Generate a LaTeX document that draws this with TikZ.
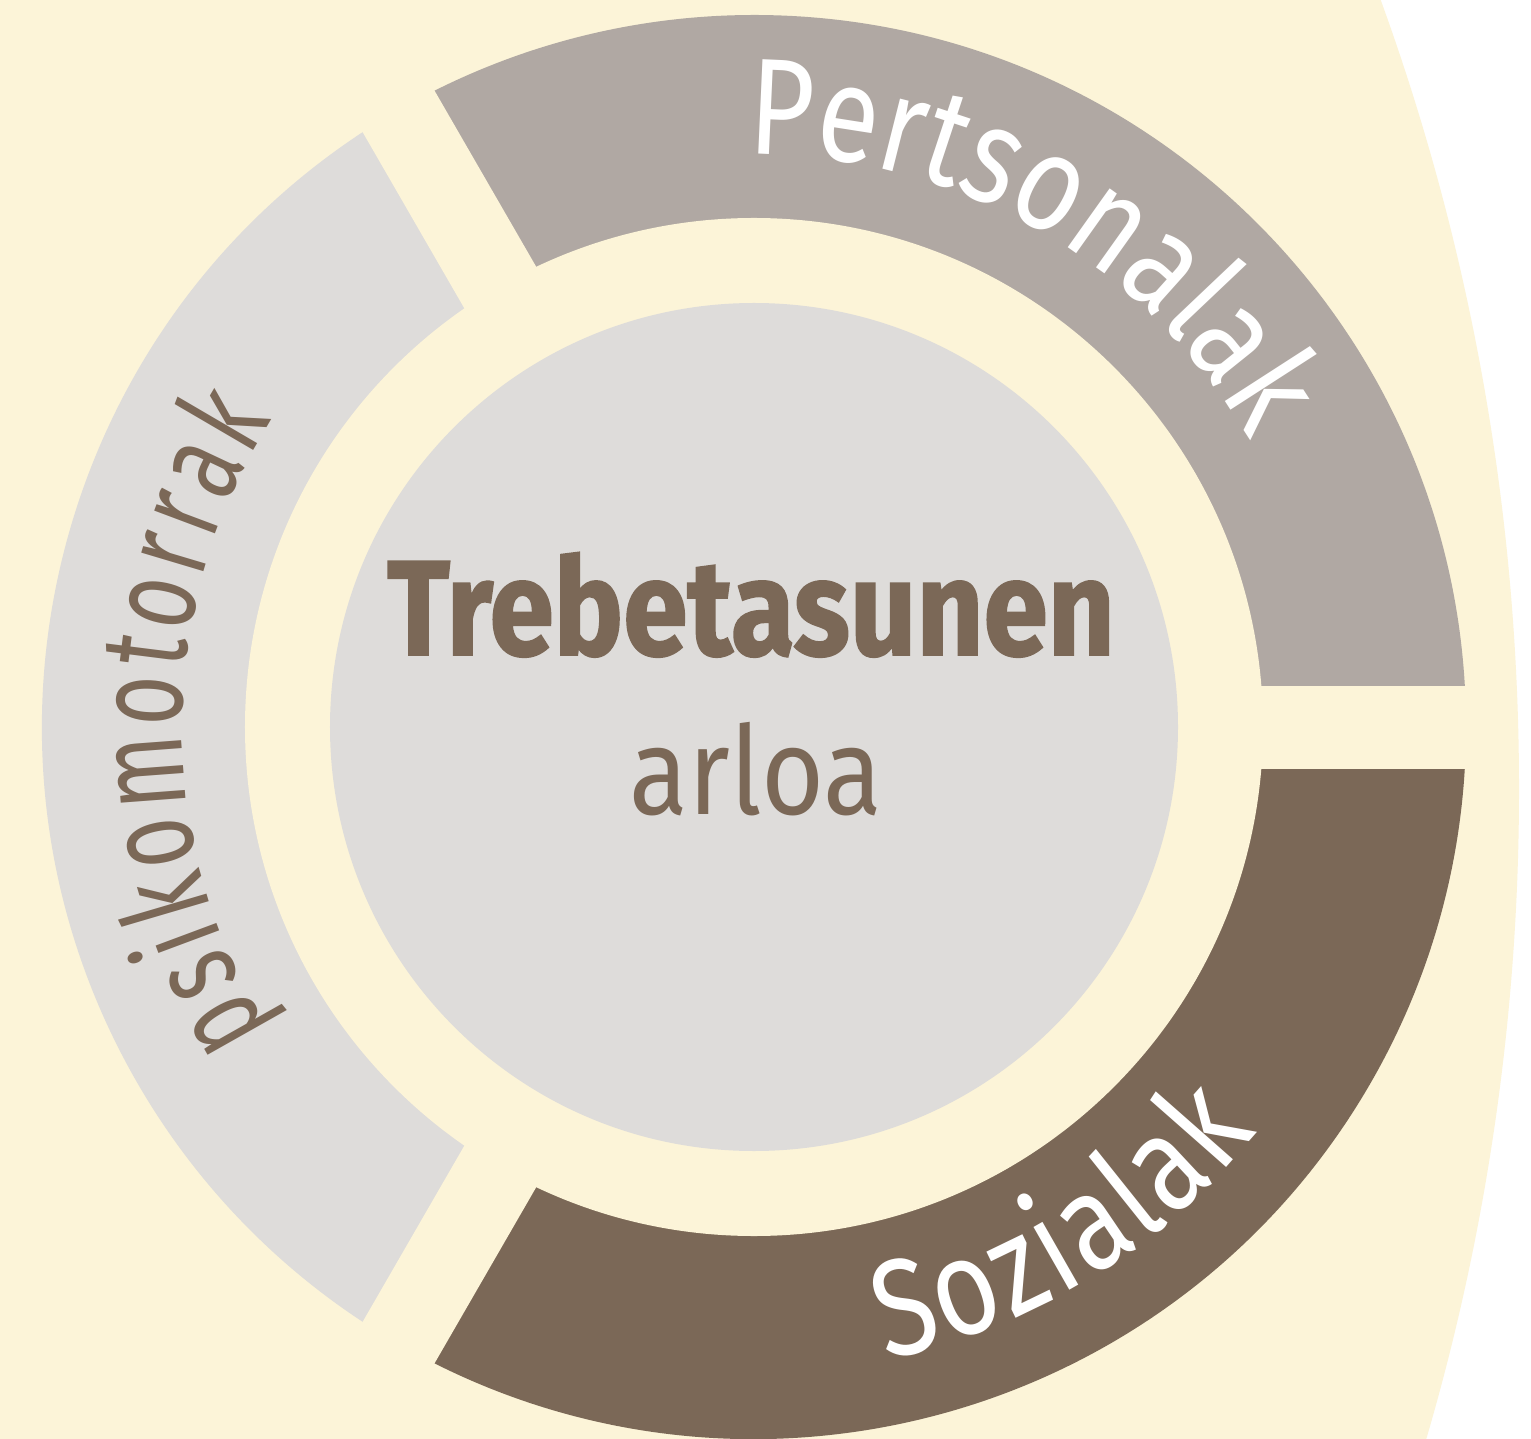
\documentclass[tikz,border=0pt]{standalone}
\usepackage{fontspec}
\setmainfont{Fira Sans}
\newfontfamily\ringfont[FakeStretch=0.82]{Fira Sans}
\newfontfamily\sideringfont[FakeStretch=0.7]{Fira Sans}
\newfontfamily\hubfont[FakeStretch=0.88]{Fira Sans}
\newfontfamily\hubboldfont[FakeStretch=0.86,FakeBold=1.2]{Fira Sans}
\usetikzlibrary{decorations.text,positioning}
\definecolor{cream}{RGB}{252,244,216}
\definecolor{pebble}{RGB}{176,168,163}
\definecolor{mist}{RGB}{222,220,218}
\definecolor{umber}{RGB}{123,104,87}
\tikzset{
	segment/.style={fill=#1},
	hub/.style={text=umber,inner sep=0pt,anchor=base},
	ringlabel/.style={decorate,decoration={text along path,text align=fit to path,text color=#1}}
}

\begin{document}
\begin{tikzpicture}
	\useasboundingbox (-7.54,-7.11) rectangle (7.77,7.27);
	\clip (-7.54,-7.11) rectangle (7.77,7.27);
	\fill[white] (-7.54,-7.11) rectangle (7.77,7.27);
	\fill[cream] (-15.44,-0.62) circle (23.09);
	\fill[segment=pebble] (0,0) -- (0:7.12) arc[start angle=0,end angle=120,radius=7.12] -- cycle;
	\fill[segment=mist] (0,0) -- (120:7.12) arc[start angle=120,end angle=240,radius=7.12] -- cycle;
	\fill[segment=umber] (0,0) -- (240:7.12) arc[start angle=240,end angle=360,radius=7.12] -- cycle;
	\fill[cream] (0,0) circle (5.09);
	\foreach \a in {0,120,240}
		\fill[cream,rotate=\a] (0,-0.415) rectangle (7.4,0.415);
	\fill[mist] (0,0) circle (4.24);
	\node (hubtop) [hub,font=\hubboldfont\bfseries\fontsize{38.5}{40}\selectfont] at (-0.03,0.72) {Trebetasunen};
	\node (hubsub) [hub,font=\hubfont\fontsize{35}{40}\selectfont] at (0.02,-0.87) {arloa};
	\path[ringlabel=white,decoration={text={|\ringfont\fontsize{39}{42}\selectfont|Pertsonalak}}]
		(90.7:5.73) arc[start angle=90.7,end angle=30.7,radius=5.73];
	\path[ringlabel=white,decoration={text={|\ringfont\fontsize{39}{42}\selectfont|Sozialak}}]
		(-78.2:6.46) arc[start angle=-78.2,end angle=-38.8,radius=6.46];
	\path[ringlabel=umber,decoration={text={|\sideringfont\fontsize{35}{38}\selectfont|psikomotorrak}}]
		(212:5.72) arc[start angle=212,end angle=147.5,radius=5.72];
\end{tikzpicture}
\end{document}
